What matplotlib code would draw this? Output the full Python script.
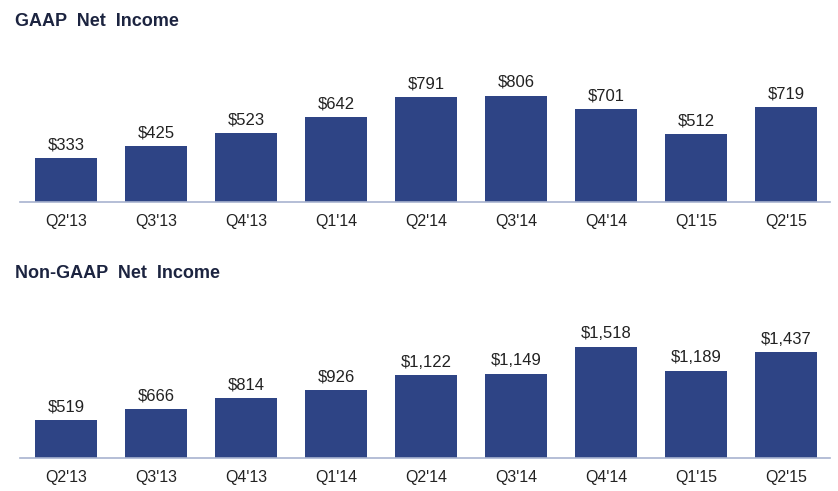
import matplotlib
matplotlib.use('Agg')
import matplotlib.pyplot as plt

plt.rcParams['font.family'] = ['Liberation Sans', 'DejaVu Sans']

quarters = ["Q2'13", "Q3'13", "Q4'13", "Q1'14", "Q2'14", "Q3'14", "Q4'14", "Q1'15", "Q2'15"]
gaap = [333, 425, 523, 642, 791, 806, 701, 512, 719]
non_gaap = [519, 666, 814, 926, 1122, 1149, 1518, 1189, 1437]

BAR = '#2e4485'
AXIS = '#a8b3cf'
TITLE = '#1c2440'
TEXT = '#222222'

W, H = 838, 491
fig = plt.figure(figsize=(W / 100, H / 100), dpi=100)


def draw_panel(rect, values, ymax, title, title_y):
    ax = fig.add_axes(rect)
    x = range(len(values))
    ax.bar(x, values, width=0.69, color=BAR)
    for i, v in zip(x, values):
        ax.annotate('${:,}'.format(v), (i, v), xytext=(0, 4), textcoords='offset points',
                    ha='center', va='bottom', fontsize=12, color=TEXT)
    ax.set_xlim(-0.51, len(values) - 0.51)
    ax.set_ylim(0, ymax)
    ax.set_xticks(list(x))
    ax.set_xticklabels(quarters, fontsize=11.5, color=TEXT)
    ax.tick_params(axis='x', length=0, pad=9)
    ax.set_yticks([])
    for s in ['top', 'left', 'right']:
        ax.spines[s].set_visible(False)
    ax.spines['bottom'].set_color(AXIS)
    ax.spines['bottom'].set_linewidth(1.2)
    # word spacing in the original is a bit wider
    fig.text(15 / W, 1 - title_y / H, title.replace(' ', '  '), fontsize=13,
             fontweight='bold', color=TITLE, va='center', ha='left')
    return ax


# axes in pixel terms: left 20, right 830
left = 20 / W
width = 810 / W
draw_panel([left, 1 - 201.5 / H, width, 161 / H], gaap, 161 / 0.1315, 'GAAP Net Income', 21)
draw_panel([left, 1 - 457.5 / H, width, 161 / H], non_gaap, 161 / 0.0731, 'Non-GAAP Net Income', 273)

fig.savefig('out.png', dpi=100)
